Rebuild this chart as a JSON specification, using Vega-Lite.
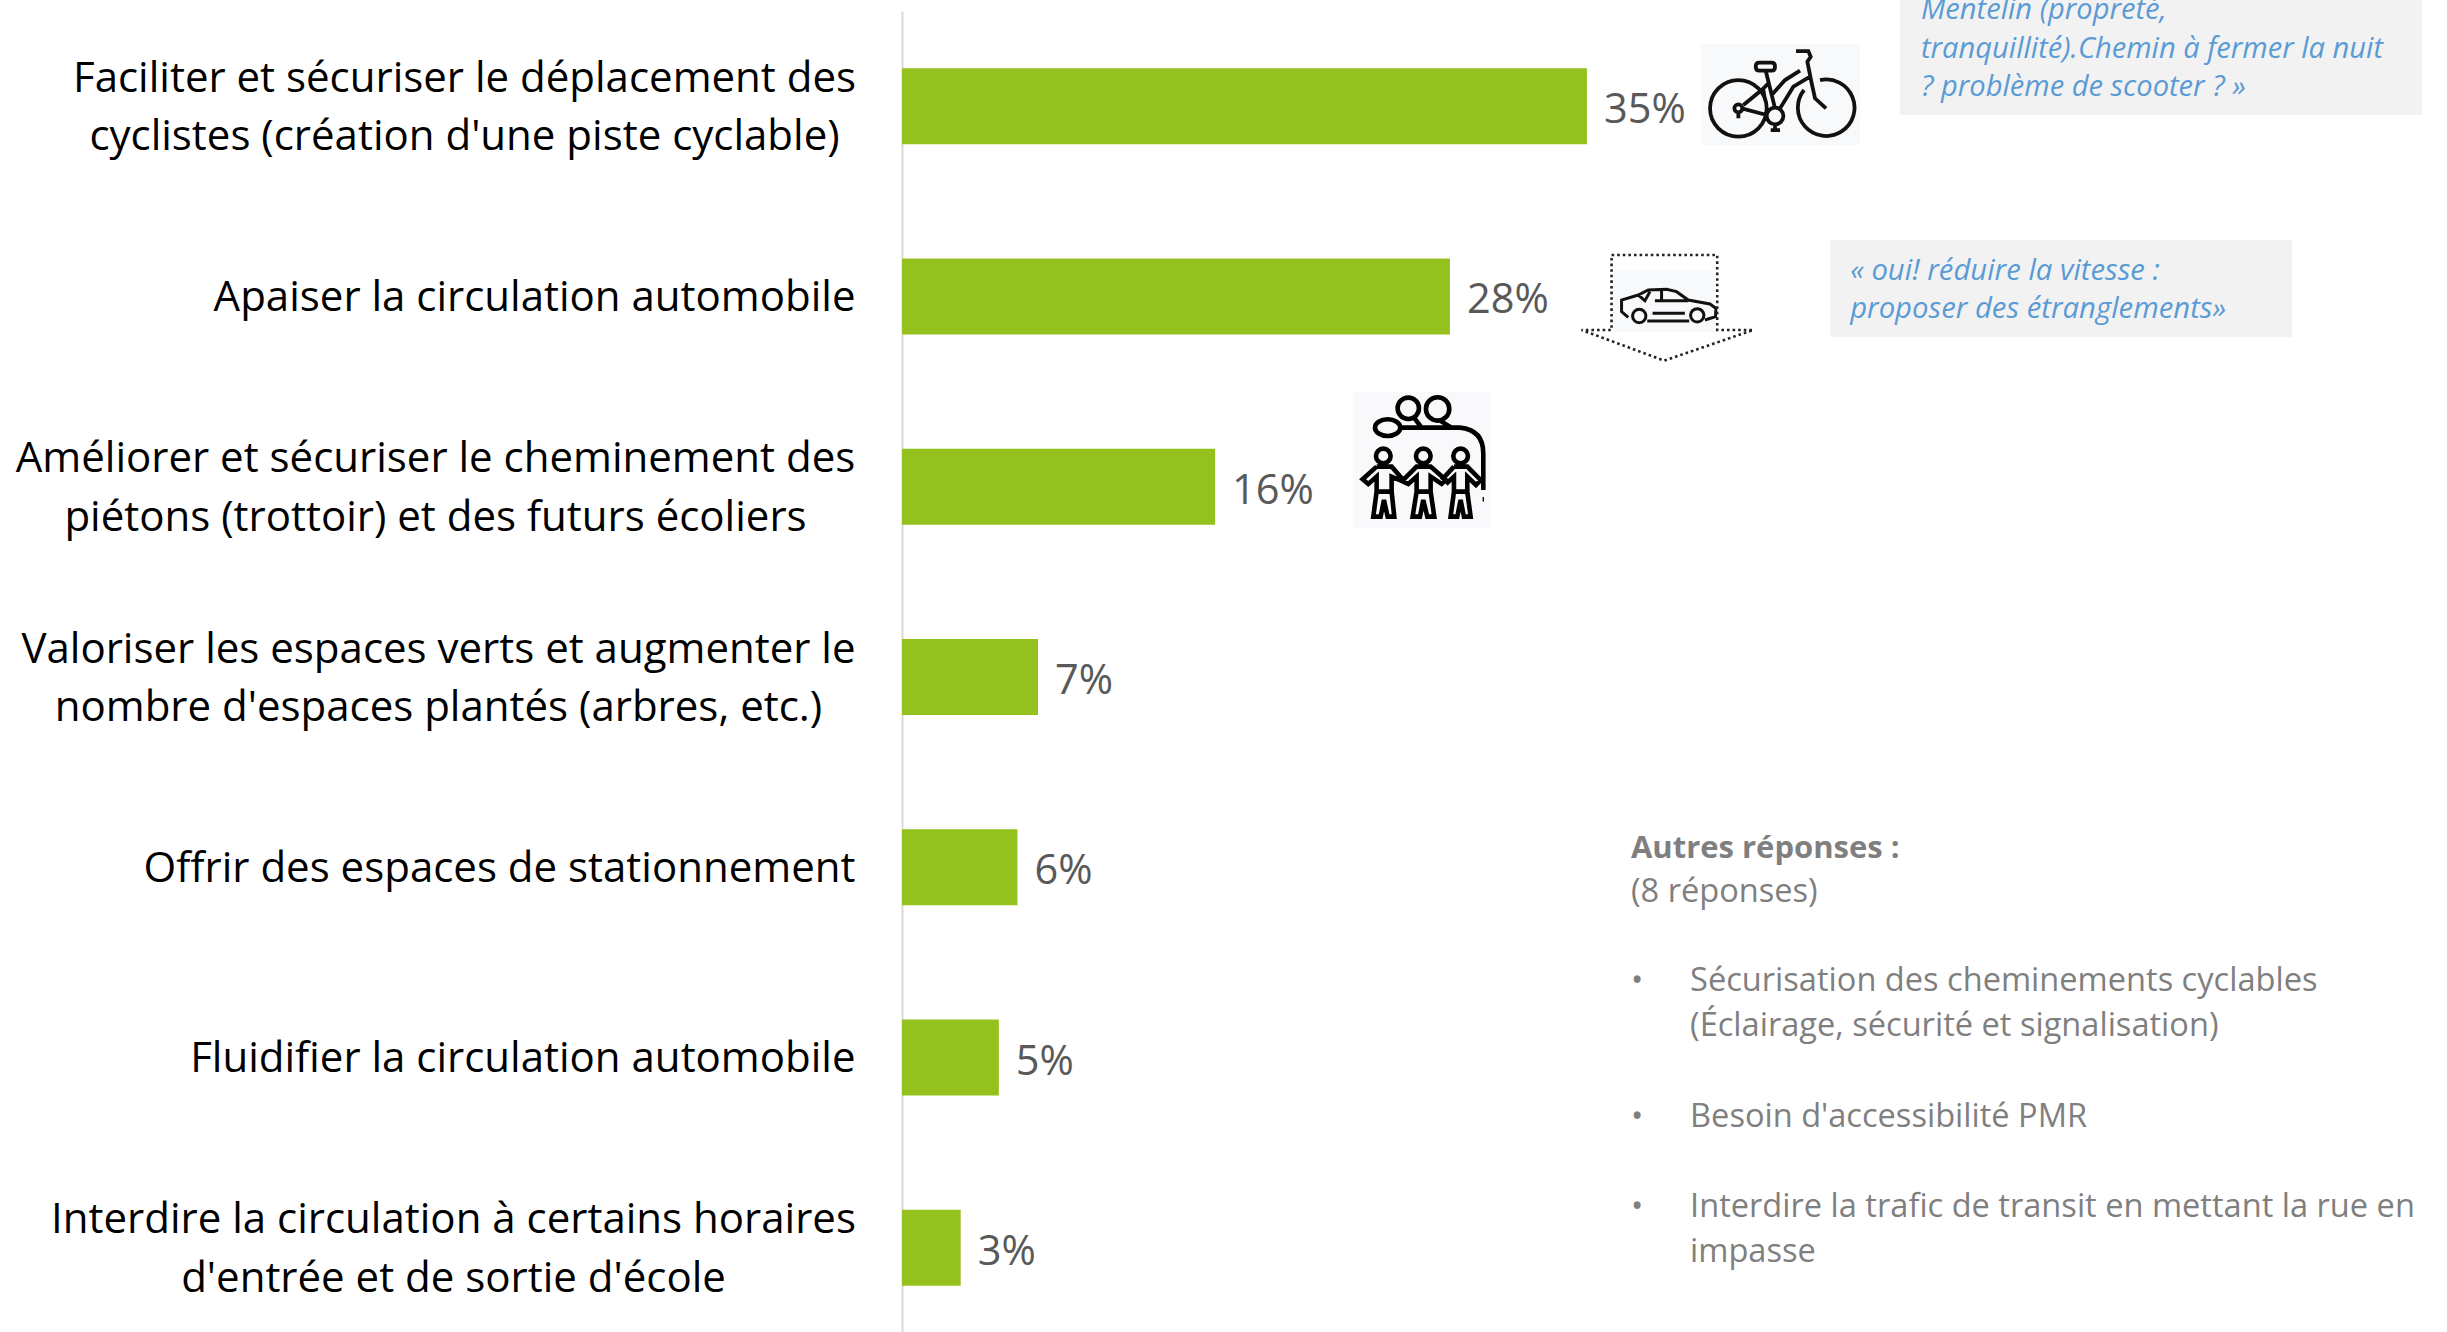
{"$schema":"https://vega.github.io/schema/vega-lite/v6.json","width":1545,"height":1332,"padding":{"left":902,"top":0,"right":0,"bottom":0},"autosize":"none","background":"white",
"config":{"view":{"stroke":null},"font":"Open Sans"},
"data":{"values":[
{"c":"Faciliter et sécuriser le déplacement des\ncyclistes (création d'une piste cyclable)","v":35,"l":"35%"},
{"c":"Apaiser la circulation automobile","v":28,"l":"28%"},
{"c":"Améliorer et sécuriser le cheminement des\npiétons (trottoir) et des futurs écoliers","v":16,"l":"16%"},
{"c":"Valoriser les espaces verts et augmenter le\nnombre d'espaces plantés (arbres, etc.)","v":6.95,"l":"7%"},
{"c":"Offrir des espaces de stationnement","v":5.9,"l":"6%"},
{"c":"Fluidifier la circulation automobile","v":4.95,"l":"5%"},
{"c":"Interdire la circulation à certains horaires\nd'entrée et de sortie d'école","v":3,"l":"3%"}]},
"layer":[
{"mark":{"type":"bar","color":"#95c11f","height":76},
"encoding":{"x":{"field":"v","type":"quantitative","scale":{"domain":[0,78.95],"nice":false},"axis":null},
"y":{"field":"c","type":"nominal","sort":null,"scale":{"range":[11,1343]},"axis":{"title":null,"ticks":false,"domainColor":"#d9d9d9","domainWidth":2,"labelPadding":47,"labelFontSize":42,"labelColor":"#000000","labelLimit":1000,"labelLineHeight":58.5,"labelFont":"Open Sans","labelExpr":"split(datum.value,'\\n')",
"encoding":{"labels":{"align":{"value":{"expr":"indexof(datum.value,'\\n')>=0?'center':'right'"}},"dx":{"value":{"expr":"indexof(datum.value,'\\n')>=0?-{'F':391,'A':420,'V':417,'I':402}[substring(datum.value,0,1)]:0"}},"dy":{"value":{"expr":"indexof(datum.value,'\\n')>=0?-27.5:1.5"}}}}}}}},
{"mark":{"type":"text","align":"left","baseline":"middle","dx":17,"dy":5,"fontSize":41.5,"color":"#595959"},
"encoding":{"x":{"field":"v","type":"quantitative"},"y":{"field":"c","type":"nominal","sort":null},"text":{"field":"l"}}},
{"data":{"values":[{"n":"note 1"}]},"mark":{"type":"bar","color":"#f2f2f2","height":115,"yOffset":-48.6},
"encoding":{"x":{"datum":51.0},"x2":{"datum":77.67},"y":{"datum":"Faciliter et sécuriser le déplacement des\ncyclistes (création d'une piste cyclable)","type":"nominal"}}},
{"data":{"values":[{"n":"note 2"}]},"mark":{"type":"bar","color":"#f2f2f2","height":97,"yOffset":-8},
"encoding":{"x":{"datum":47.45},"x2":{"datum":71.03},"y":{"datum":"Apaiser la circulation automobile","type":"nominal"}}},
{"data":{"values":[{"n":"bike"}]},"mark":{"type":"bar","color":"#f8f9fb","height":101,"yOffset":-11.6},
"encoding":{"x":{"datum":40.83},"x2":{"datum":48.95},"y":{"datum":"Faciliter et sécuriser le déplacement des\ncyclistes (création d'une piste cyclable)","type":"nominal"}}},
{"data":{"values":[{"n":"car"}]},"mark":{"type":"bar","color":"#f8f9fb","height":62,"yOffset":4.6},
"encoding":{"x":{"datum":36.33},"x2":{"datum":41.54},"y":{"datum":"Apaiser la circulation automobile","type":"nominal"}}},
{"data":{"values":[{"n":"family"}]},"mark":{"type":"bar","color":"#f9f9fb","height":136,"yOffset":-26.8},
"encoding":{"x":{"datum":23.05},"x2":{"datum":30.1},"y":{"datum":"Améliorer et sécuriser le cheminement des\npiétons (trottoir) et des futurs écoliers","type":"nominal"}}},
{"data":{"values":[{"n":"bike"}]},"mark":{"type":"point","filled":false,"size":0.4444,"stroke":"#111111","strokeWidth":3.8,"opacity":1,"yOffset":-66.1,"shape":"M30 205A85 85 0 1 1 200 205A85 85 0 1 1 30 205M360 120A85 85 0 1 1 312 150M103 205A12 12 0 1 1 127 205A12 12 0 1 1 103 205M200 228A25 25 0 1 1 250 228A25 25 0 1 1 200 228M178 68L215 68Q225 68 225 80Q225 92 215 92L178 92Q167 92 167 80Q167 68 178 68M197 92L225 205M125 205L200 225M130 195L185 150L205 130M190 150L195 180M215 165L255 120L300 92M240 205L280 140L330 110M288 33L325 33L332 50L322 65L335 130L345 175L378 205M225 250L225 268M212 270L240 270M115 215L115 235"},
"encoding":{"x":{"datum":40.78},"y":{"datum":"Faciliter et sécuriser le déplacement des\ncyclistes (création d'une piste cyclable)","type":"nominal"}}},
{"data":{"values":[{"n":"car"}]},"mark":{"type":"point","filled":false,"size":0.4444,"stroke":"#111111","strokeWidth":3,"opacity":1,"yOffset":-56.43,"shape":"M175 232L155 215L155 180L205 165L235 150L290 148L320 155L355 180L420 192L438 205L437 230L405 240M188 228A20 20 0 1 1 228 228A20 20 0 1 1 188 228M362 226A20 20 0 1 1 402 226A20 20 0 1 1 362 226M248 220L345 220M232 243L358 243M275 150L275 180M255 182L355 182M205 165L225 182L240 155"},
"encoding":{"x":{"datum":34.13},"y":{"datum":"Apaiser la circulation automobile","type":"nominal"}}},
{"data":{"values":[{"n":"arrow"}]},"mark":{"type":"point","filled":false,"size":0.4444,"stroke":"#222222","strokeWidth":2.6,"strokeDash":[2.6,3],"opacity":1,"yOffset":-56.43,"shape":"M125 45L442 45L442 270L550 270L283 362L35 270L125 270Z"},
"encoding":{"x":{"datum":34.13},"y":{"datum":"Apaiser la circulation automobile","type":"nominal"}}},
{"data":{"values":[{"n":"family"}]},"mark":{"type":"point","filled":false,"size":0.4444,"stroke":"#000000","strokeWidth":4.6,"opacity":1,"yOffset":-101.76,"shape":"M108 213A22 22 0 1 1 152 213A22 22 0 1 1 108 213M228 213A22 22 0 1 1 272 213A22 22 0 1 1 228 213M340 213A22 22 0 1 1 384 213A22 22 0 1 1 340 213M110 245L68 283L85 297L110 275L110 320L100 395L122 395L132 345L143 395L163 395L155 320L155 275L190 290L205 297L230 275L230 320L218 395L240 395L250 345L262 395L283 395L272 320L272 275L305 297L318 285L272 245L230 245L190 285L155 245L110 245M110 320L155 320M230 320L272 320M342 245L305 285M318 297L342 275L342 320L332 395L352 395L362 345L372 395L392 395L382 320L382 275L408 300L422 285L382 245L342 245M342 320L382 320M105 128A38 25 0 1 1 181 128A38 25 0 1 1 105 128M173 70A32 32 0 1 1 237 70A32 32 0 1 1 173 70M258 72A35 35 0 1 1 328 72A35 35 0 1 1 258 72M181 128L360 128Q430 135 430 205L430 315M225 102L245 128M300 107L335 128M428 343L432 343"},
"encoding":{"x":{"datum":22.38},"y":{"datum":"Améliorer et sécuriser le cheminement des\npiétons (trottoir) et des futurs écoliers","type":"nominal"}}},
{"data":{"values":[{"t":"Mentelin (propreté,\ntranquillité).Chemin à fermer la nuit\n? problème de scooter ? »"}]},"mark":{"type":"text","align":"left","baseline":"alphabetic","lineBreak":"\n","lineHeight":38.5,"fontSize":29.1,"fontStyle":"italic","color":"#5b9bd5","yOffset":-87},
"encoding":{"x":{"datum":52.07},"y":{"datum":"Faciliter et sécuriser le déplacement des\ncyclistes (création d'une piste cyclable)","type":"nominal"},"text":{"field":"t"}}},
{"data":{"values":[{"t":"« oui! réduire la vitesse :\nproposer des étranglements»"}]},"mark":{"type":"text","align":"left","baseline":"alphabetic","lineBreak":"\n","lineHeight":37.5,"fontSize":29.3,"fontStyle":"italic","color":"#5b9bd5","yOffset":-16.4},
"encoding":{"x":{"datum":48.45},"y":{"datum":"Apaiser la circulation automobile","type":"nominal"},"text":{"field":"t"}}},
{"data":{"values":[{"t":"Autres réponses :"}]},"mark":{"type":"text","align":"left","baseline":"alphabetic","fontSize":31,"fontWeight":"bold","color":"#7f7f7f","yOffset":-9.4},
"encoding":{"x":{"datum":37.25},"y":{"datum":"Offrir des espaces de stationnement","type":"nominal"},"text":{"field":"t"}}},
{"data":{"values":[{"t":"(8 réponses)"}]},"mark":{"type":"text","align":"left","baseline":"alphabetic","fontSize":32.6,"color":"#7f7f7f","yOffset":35},
"encoding":{"x":{"datum":37.25},"y":{"datum":"Offrir des espaces de stationnement","type":"nominal"},"text":{"field":"t"}}},
{"data":{"values":[{"t":"•"}]},"mark":{"type":"text","align":"left","baseline":"alphabetic","fontSize":32.6,"color":"#7f7f7f","yOffset":124},
"encoding":{"x":{"datum":37.25},"y":{"datum":"Offrir des espaces de stationnement","type":"nominal"},"text":{"field":"t"}}},
{"data":{"values":[{"t":"•"}]},"mark":{"type":"text","align":"left","baseline":"alphabetic","fontSize":32.6,"color":"#7f7f7f","yOffset":259.6},
"encoding":{"x":{"datum":37.25},"y":{"datum":"Offrir des espaces de stationnement","type":"nominal"},"text":{"field":"t"}}},
{"data":{"values":[{"t":"•"}]},"mark":{"type":"text","align":"left","baseline":"alphabetic","fontSize":32.6,"color":"#7f7f7f","yOffset":349.6},
"encoding":{"x":{"datum":37.25},"y":{"datum":"Offrir des espaces de stationnement","type":"nominal"},"text":{"field":"t"}}},
{"data":{"values":[{"t":"Sécurisation des cheminements cyclables\n(Éclairage, sécurité et signalisation)"}]},"mark":{"type":"text","align":"left","baseline":"alphabetic","lineBreak":"\n","lineHeight":45,"fontSize":32.6,"color":"#7f7f7f","yOffset":124},
"encoding":{"x":{"datum":40.27},"y":{"datum":"Offrir des espaces de stationnement","type":"nominal"},"text":{"field":"t"}}},
{"data":{"values":[{"t":"Besoin d'accessibilité PMR"}]},"mark":{"type":"text","align":"left","baseline":"alphabetic","fontSize":32.6,"color":"#7f7f7f","yOffset":259.6},
"encoding":{"x":{"datum":40.27},"y":{"datum":"Offrir des espaces de stationnement","type":"nominal"},"text":{"field":"t"}}},
{"data":{"values":[{"t":"Interdire la trafic de transit en mettant la rue en\nimpasse"}]},"mark":{"type":"text","align":"left","baseline":"alphabetic","lineBreak":"\n","lineHeight":45,"fontSize":32.6,"color":"#7f7f7f","yOffset":349.6},
"encoding":{"x":{"datum":40.27},"y":{"datum":"Offrir des espaces de stationnement","type":"nominal"},"text":{"field":"t"}}}
]}
